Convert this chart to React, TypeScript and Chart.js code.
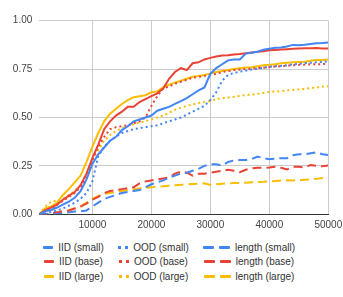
import React, { useEffect, useRef } from "react";
import { Chart, registerables } from "chart.js";

Chart.register(...registerables);

const steps = [
  1000, 2000, 3000, 4000, 5000, 6000, 7000, 8000, 9000, 10000,
  11000, 12000, 13000, 14000, 15000, 16000, 17000, 18000, 19000, 20000,
  21000, 22000, 23000, 24000, 25000, 26000, 27000, 28000, 29000, 30000,
  31000, 32000, 33000, 34000, 35000, 36000, 37000, 38000, 39000, 40000,
  41000, 42000, 43000, 44000, 45000, 46000, 47000, 48000, 49000, 50000,
];

const iidSmall = [0, 0.015, 0.022, 0.035, 0.05, 0.065, 0.085, 0.12, 0.18, 0.26, 0.31, 0.345, 0.38, 0.40, 0.435, 0.455, 0.48, 0.49, 0.50, 0.51, 0.535, 0.545, 0.555, 0.57, 0.585, 0.60, 0.62, 0.64, 0.655, 0.725, 0.755, 0.775, 0.795, 0.80, 0.80, 0.83, 0.835, 0.84, 0.85, 0.855, 0.86, 0.862, 0.867, 0.875, 0.873, 0.876, 0.88, 0.883, 0.885, 0.888];
const iidBase = [0, 0.02, 0.035, 0.05, 0.075, 0.095, 0.115, 0.15, 0.21, 0.29, 0.36, 0.44, 0.48, 0.51, 0.53, 0.555, 0.555, 0.58, 0.595, 0.61, 0.625, 0.65, 0.70, 0.735, 0.755, 0.745, 0.78, 0.785, 0.80, 0.808, 0.815, 0.82, 0.822, 0.825, 0.828, 0.832, 0.836, 0.84, 0.842, 0.847, 0.849, 0.851, 0.853, 0.855, 0.857, 0.858, 0.858, 0.859, 0.857, 0.857];
const iidLarge = [0, 0.03, 0.04, 0.06, 0.1, 0.13, 0.165, 0.20, 0.27, 0.35, 0.42, 0.48, 0.52, 0.545, 0.57, 0.59, 0.605, 0.61, 0.615, 0.63, 0.635, 0.655, 0.67, 0.68, 0.69, 0.70, 0.71, 0.715, 0.72, 0.728, 0.735, 0.74, 0.745, 0.75, 0.755, 0.758, 0.76, 0.765, 0.77, 0.772, 0.775, 0.78, 0.783, 0.785, 0.787, 0.788, 0.793, 0.797, 0.797, 0.80];
const oodSmall = [0, 0.005, 0.012, 0.02, 0.03, 0.045, 0.06, 0.08, 0.11, 0.17, 0.30, 0.35, 0.38, 0.40, 0.42, 0.43, 0.44, 0.445, 0.45, 0.455, 0.46, 0.47, 0.48, 0.49, 0.50, 0.515, 0.53, 0.545, 0.56, 0.59, 0.63, 0.69, 0.72, 0.73, 0.737, 0.742, 0.748, 0.752, 0.757, 0.762, 0.765, 0.767, 0.77, 0.775, 0.777, 0.78, 0.783, 0.785, 0.787, 0.79];
const oodBase = [0, 0.02, 0.03, 0.05, 0.07, 0.09, 0.11, 0.14, 0.19, 0.28, 0.35, 0.40, 0.44, 0.45, 0.455, 0.46, 0.47, 0.48, 0.50, 0.56, 0.61, 0.65, 0.66, 0.675, 0.685, 0.695, 0.705, 0.71, 0.715, 0.72, 0.725, 0.735, 0.74, 0.745, 0.748, 0.75, 0.752, 0.755, 0.757, 0.76, 0.763, 0.765, 0.768, 0.77, 0.772, 0.773, 0.775, 0.775, 0.776, 0.777];
const oodLarge = [0, 0.04, 0.065, 0.07, 0.08, 0.10, 0.12, 0.15, 0.21, 0.28, 0.33, 0.38, 0.41, 0.43, 0.445, 0.455, 0.465, 0.475, 0.48, 0.49, 0.50, 0.51, 0.525, 0.54, 0.55, 0.56, 0.568, 0.575, 0.58, 0.585, 0.595, 0.60, 0.603, 0.607, 0.612, 0.615, 0.618, 0.622, 0.627, 0.632, 0.634, 0.636, 0.64, 0.643, 0.645, 0.648, 0.652, 0.655, 0.66, 0.662];
const lengthSmall = [0, 0, 0, 0.002, 0.005, 0.01, 0.015, 0.015, 0.02, 0.04, 0.06, 0.08, 0.09, 0.10, 0.11, 0.115, 0.12, 0.125, 0.14, 0.155, 0.165, 0.175, 0.19, 0.20, 0.21, 0.215, 0.225, 0.235, 0.25, 0.258, 0.258, 0.252, 0.27, 0.278, 0.28, 0.28, 0.285, 0.298, 0.29, 0.284, 0.288, 0.29, 0.289, 0.305, 0.31, 0.31, 0.315, 0.32, 0.31, 0.306];
const lengthBase = [0, 0, 0.005, 0.01, 0.015, 0.02, 0.03, 0.04, 0.055, 0.075, 0.09, 0.11, 0.12, 0.125, 0.13, 0.135, 0.14, 0.16, 0.17, 0.175, 0.18, 0.185, 0.19, 0.21, 0.22, 0.215, 0.20, 0.21, 0.21, 0.215, 0.22, 0.225, 0.23, 0.225, 0.217, 0.23, 0.237, 0.24, 0.24, 0.242, 0.246, 0.24, 0.232, 0.245, 0.245, 0.242, 0.255, 0.25, 0.248, 0.252];
const lengthLarge = [0, 0, 0.005, 0.01, 0.015, 0.02, 0.03, 0.04, 0.06, 0.08, 0.095, 0.105, 0.11, 0.115, 0.12, 0.125, 0.13, 0.133, 0.137, 0.14, 0.143, 0.145, 0.148, 0.15, 0.152, 0.155, 0.157, 0.158, 0.16, 0.152, 0.155, 0.158, 0.16, 0.162, 0.162, 0.163, 0.165, 0.167, 0.168, 0.17, 0.172, 0.174, 0.176, 0.175, 0.176, 0.178, 0.18, 0.183, 0.187, 0.19];

const xTicks = [10000, 20000, 30000, 40000, 50000];
const yTicks = [0, 0.25, 0.5, 0.75, 1.0];

const BLUE = "#4285F4";
const RED = "#EA4335";
const YELLOW = "#FBBC04";

type Style = "solid" | "dotted" | "dashed";

const seriesDefs: { label: string; data: number[]; color: string; style: Style }[] = [
  { label: "IID (small)", data: iidSmall, color: BLUE, style: "solid" },
  { label: "OOD (small)", data: oodSmall, color: BLUE, style: "dotted" },
  { label: "length (small)", data: lengthSmall, color: BLUE, style: "dashed" },
  { label: "IID (base)", data: iidBase, color: RED, style: "solid" },
  { label: "OOD (base)", data: oodBase, color: RED, style: "dotted" },
  { label: "length (base)", data: lengthBase, color: RED, style: "dashed" },
  { label: "IID (large)", data: iidLarge, color: YELLOW, style: "solid" },
  { label: "OOD (large)", data: oodLarge, color: YELLOW, style: "dotted" },
  { label: "length (large)", data: lengthLarge, color: YELLOW, style: "dashed" },
];

const FONT = 'Arial, "Liberation Sans", sans-serif';

function dashFor(style: Style): number[] {
  if (style === "dotted") return [2, 3];
  if (style === "dashed") return [9, 5];
  return [];
}

function Swatch({ color, style }: { color: string; style: Style }) {
  if (style === "solid") {
    return <div style={{ width: 10, height: 3, background: color, borderRadius: 1 }} />;
  }
  if (style === "dotted") {
    return (
      <div style={{ display: "flex", gap: 4 }}>
        <div style={{ width: 3, height: 3, background: color }} />
        <div style={{ width: 3, height: 3, background: color }} />
      </div>
    );
  }
  return (
    <div style={{ display: "flex", gap: 5 }}>
      <div style={{ width: 11, height: 3, background: color, borderRadius: 1 }} />
      <div style={{ width: 11, height: 3, background: color, borderRadius: 1 }} />
    </div>
  );
}

const colCenters = [73.5, 153.5, 249];
const rowCenters = [247.7, 261.5, 276];

export default function App() {
  const canvasRef = useRef<HTMLCanvasElement | null>(null);

  useEffect(() => {
    if (!canvasRef.current) return;
    const chart = new Chart(canvasRef.current, {
      type: "line",
      data: {
        datasets: seriesDefs.map((s) => ({
          label: s.label,
          data: s.data.map((v, i) => ({ x: steps[i], y: v })),
          borderColor: s.color,
          backgroundColor: s.color,
          borderWidth: 2,
          borderDash: dashFor(s.style),
          pointRadius: 0,
          tension: 0,
          fill: false,
        })),
      },
      options: {
        responsive: false,
        animation: false,
        layout: { padding: { top: 20.7, right: 14.7, bottom: 0, left: 0 } },
        plugins: { legend: { display: false }, tooltip: { enabled: false } },
        scales: {
          x: {
            type: "linear",
            min: 1000,
            max: 50000,
            afterBuildTicks: (scale: any) => {
              scale.ticks = xTicks.map((v) => ({ value: v }));
            },
            afterFit: (scale: any) => {
              scale.height = 20.7;
              scale.paddingLeft = 0;
              scale.paddingRight = 0;
            },
            grid: { color: "#cccccc", drawTicks: false, lineWidth: 1 },
            border: { display: true, color: "#333333", width: 1 },
            ticks: {
              padding: 5,
              color: "#444444",
              font: { family: FONT, size: 10 },
              maxRotation: 0,
              autoSkip: false,
              callback: (v: any) => String(v),
            },
          },
          y: {
            min: 0,
            max: 1,
            afterBuildTicks: (scale: any) => {
              scale.ticks = yTicks.map((v) => ({ value: v }));
            },
            afterFit: (scale: any) => {
              scale.width = 39.3;
              scale.paddingTop = 0;
              scale.paddingBottom = 0;
            },
            grid: {
              color: (ctx: any) => (ctx.tick && ctx.tick.value === 0 ? "#333333" : "#cccccc"),
              drawTicks: false,
              lineWidth: 1,
            },
            border: { display: false },
            ticks: {
              padding: 7,
              color: "#444444",
              font: { family: FONT, size: 10 },
              callback: (v: any) => Number(v).toFixed(2),
            },
          },
        },
      },
    } as any);
    return () => chart.destroy();
  }, []);

  return (
    <div style={{ position: "absolute", left: 0, top: 0, width: 343, height: 297, background: "#ffffff" }}>
      <canvas ref={canvasRef} width={343} height={235} style={{ display: "block", width: 343, height: 235 }} />
      {seriesDefs.map((s, i) => {
        const row = Math.floor(i / 3);
        const col = i % 3;
        return (
          <div
            key={s.label}
            style={{
              position: "absolute",
              left: colCenters[col] - 60,
              width: 120,
              top: rowCenters[row] - 7,
              height: 14,
              display: "flex",
              justifyContent: "center",
              alignItems: "center",
              gap: 5,
              fontFamily: FONT,
              fontSize: 10,
              color: "#333333",
              whiteSpace: "nowrap",
            }}
          >
            <Swatch color={s.color} style={s.style} />
            <span>{s.label}</span>
          </div>
        );
      })}
    </div>
  );
}
